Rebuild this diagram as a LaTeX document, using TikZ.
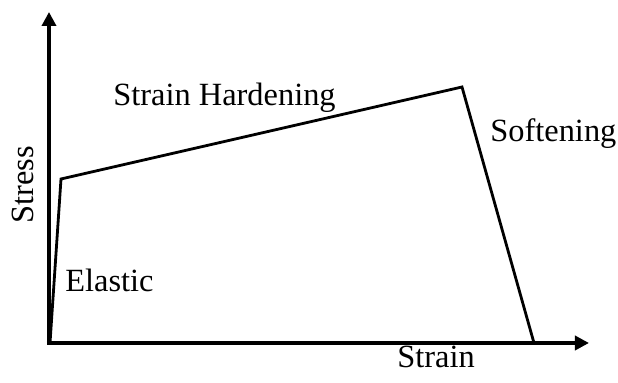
\documentclass[tikz,border=0pt]{standalone}
\usepackage{fontspec}
\setmainfont{Liberation Serif}
\usetikzlibrary{arrows.meta}
\begin{document}
\begin{tikzpicture}[x=0.5pt,y=-0.5pt,
  axis/.style={line width=2pt,-{Triangle[length=7pt,width=7pt]}},
  curve/.style={line width=1.4pt,line join=miter},
  lbl/.style={inner sep=0pt,anchor=base west,font=\fontsize{16.2pt}{19pt}\selectfont}]
\useasboundingbox (0,0) rectangle (618,383);
\coordinate (o) at (49,343);
\coordinate (ytip) at (49,12);
\coordinate (xtip) at (589,343);
\coordinate (p0) at (50,343);
\coordinate (p1) at (61,179);
\coordinate (p2) at (462,87);
\coordinate (p3) at (534,343);
\draw[curve] (p0) -- (p1) -- (p2) -- (p3);
\draw[axis] ([yshift=1pt]o) -- (ytip);
\draw[axis] ([xshift=-1pt]o) -- (xtip);
\node[lbl] (sh) at (113,106) {Strain Hardening};
\node[lbl] (soft) at (490,142) {Softening};
\node[lbl] (el) at (65,292) {Elastic};
\node[lbl] (sx) at (397,368) {Strain};
\node[lbl,rotate=90,anchor=base] (sy) at (33,185) {Stress};
\end{tikzpicture}
\end{document}
